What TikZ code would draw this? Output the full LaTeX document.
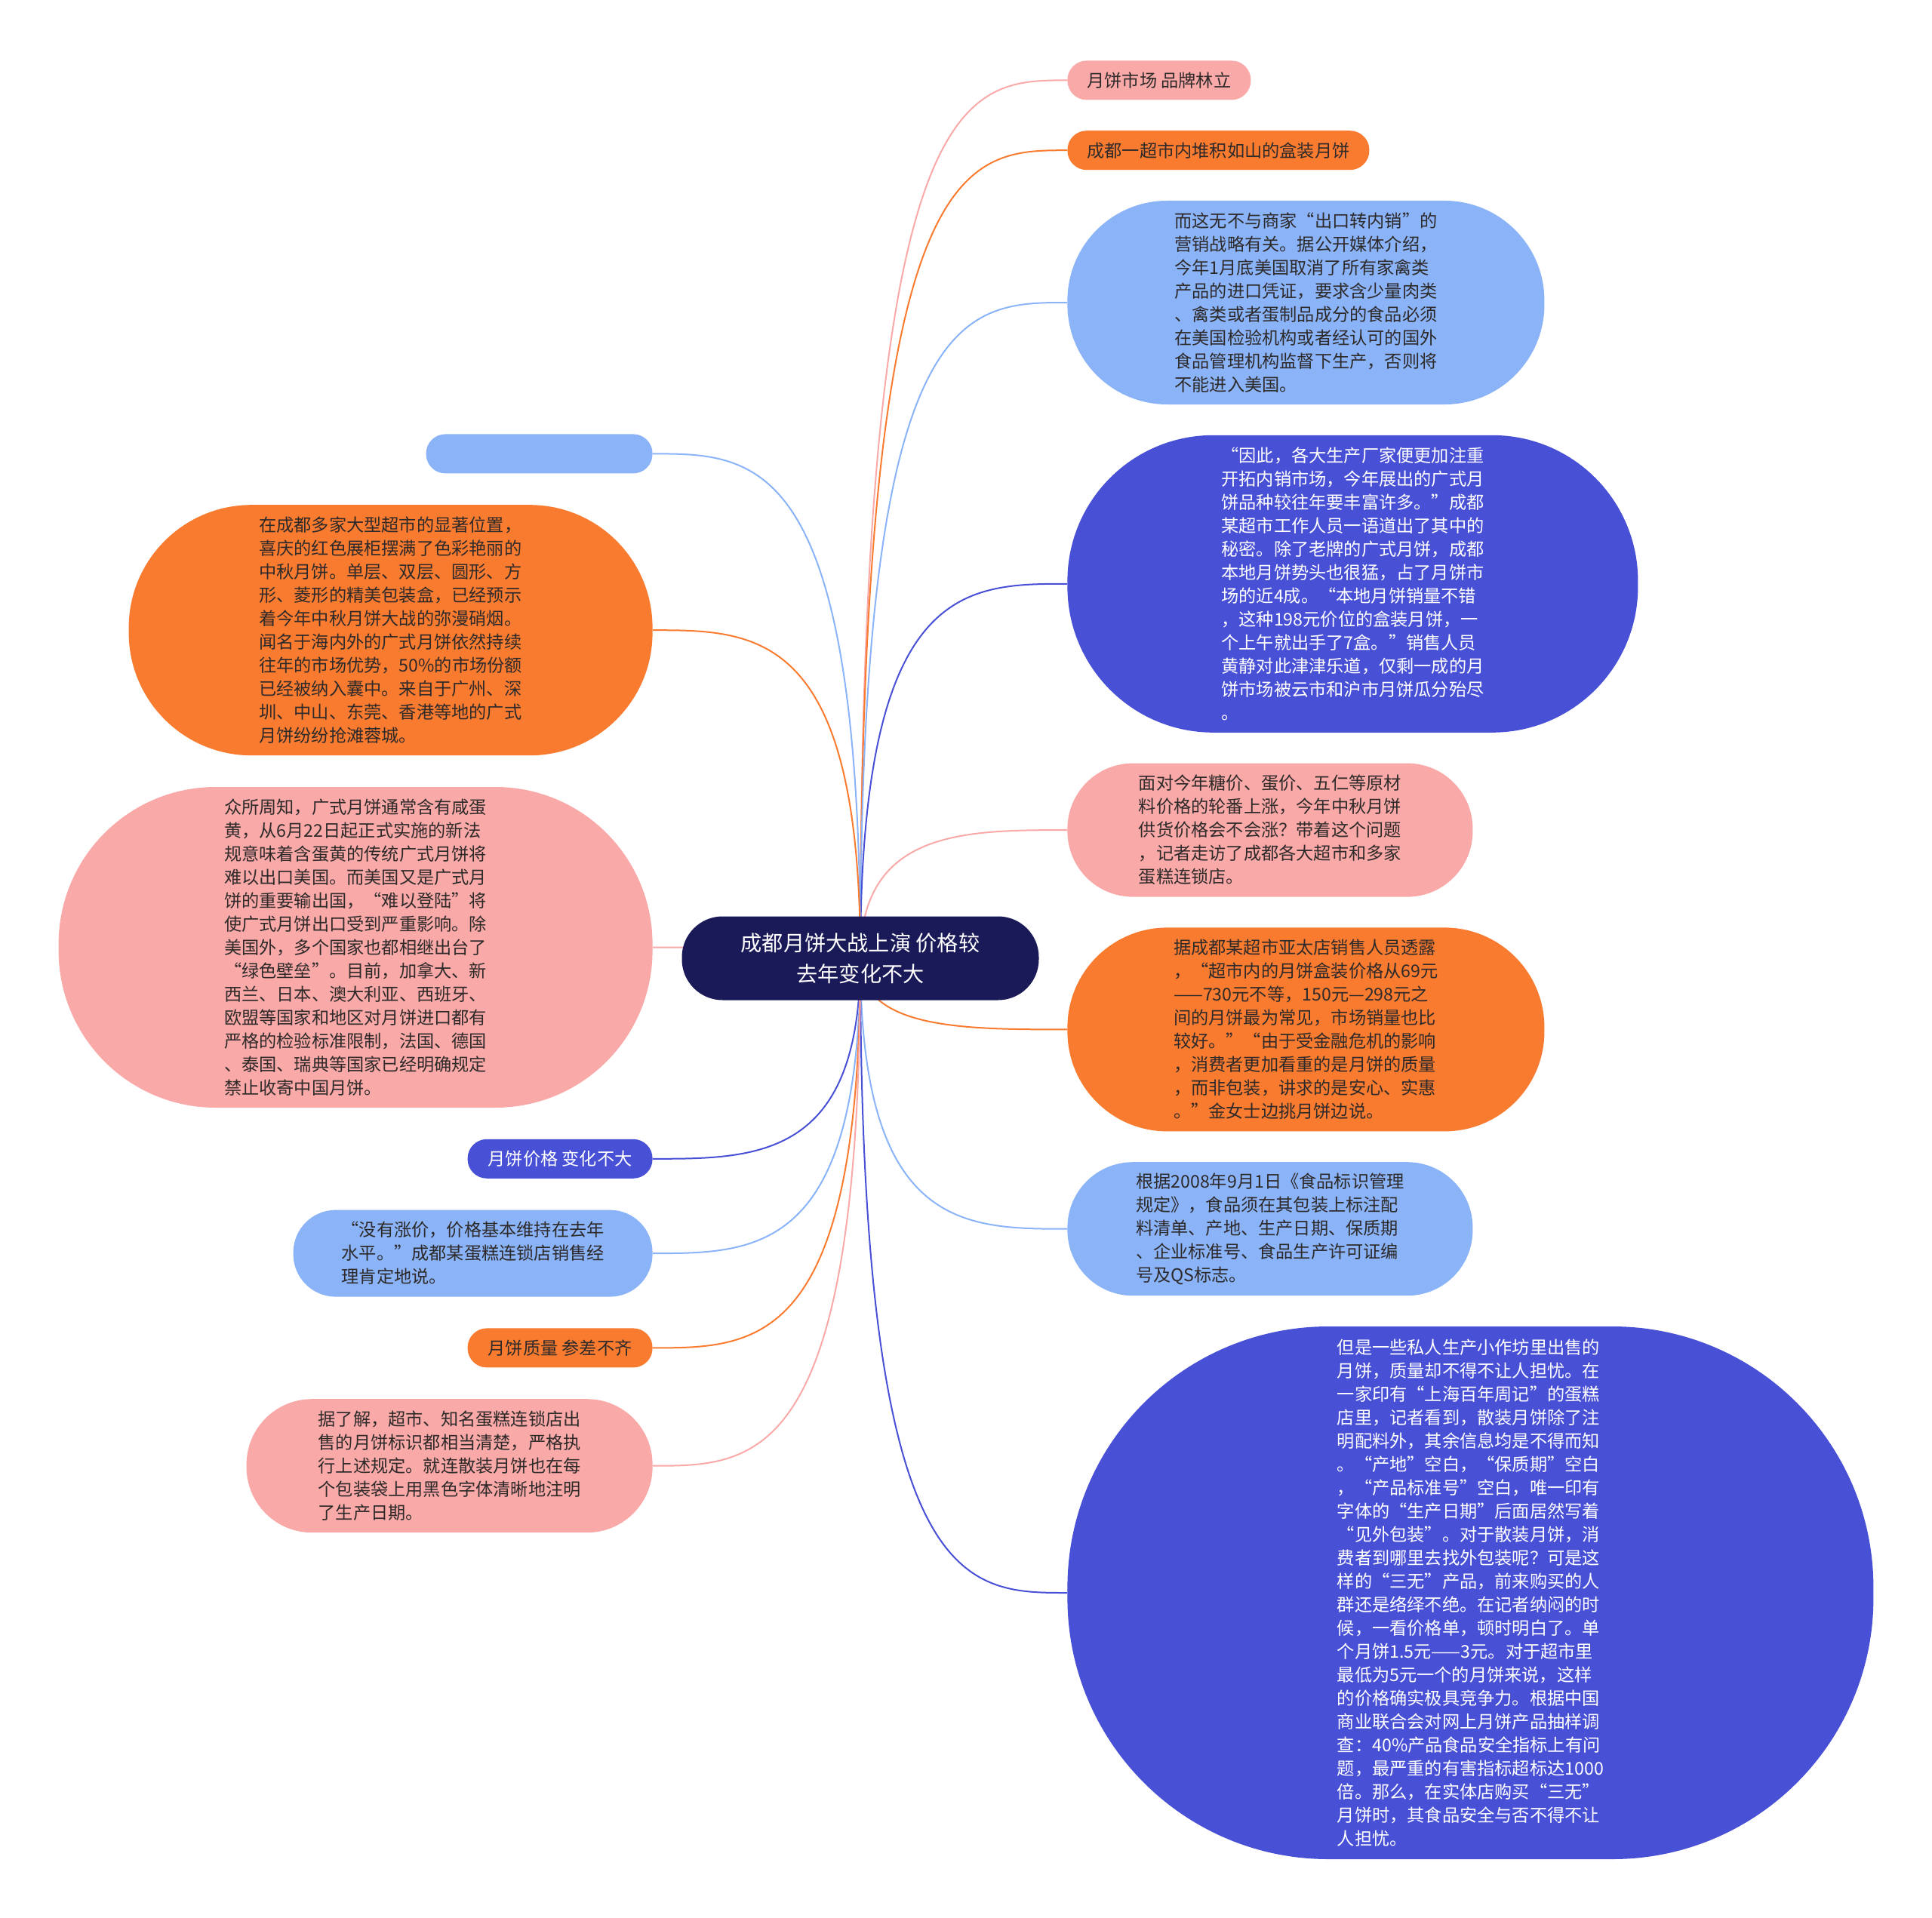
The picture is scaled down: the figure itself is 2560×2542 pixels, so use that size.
\documentclass[tikz,border=0pt]{standalone}
\usepackage{fontspec}
\setmainfont{Noto Sans CJK SC}
\usetikzlibrary{backgrounds,calc,positioning}

\definecolor{pinkfill}{HTML}{F9A9A7}
\definecolor{orangefill}{HTML}{F97B30}
\definecolor{bluefill}{HTML}{8AB3F8}
\definecolor{indigofill}{HTML}{4850D6}
\definecolor{navyfill}{HTML}{1B1A58}
\definecolor{textdark}{HTML}{2E2A2A}

\begin{document}
\begin{tikzpicture}[
  x=0.5pt, y=-0.5pt,
  every node/.style={
    font=\fontsize{11.6}{15.5}\selectfont,
    text=textdark
  },
  bubble/.style n args={2}{
    rectangle,
    align=left,
    inner sep=0pt,
    minimum width=#1,
    minimum height=#2,
    rounded corners=0.49*#2
  },
  root/.style={
    rectangle,
    fill=navyfill,
    text=white,
    align=center,
    inner sep=0pt,
    minimum width=236.5pt,
    minimum height=55.5pt,
    rounded corners=27pt,
    font=\fontsize{14.1}{20.4}\selectfont
  },
  link/.style={
    line width=1pt,
    to path={.. controls (\tikztostart |- \tikztotarget)
      and ($(\tikztostart |- \tikztotarget)!0.5!(\tikztotarget)$)
      .. (\tikztotarget)}
  }
]
  \useasboundingbox (0,0) rectangle (2560,2542);

  \node[root] (ctr) at (1140,1270) {成都月饼大战上演 价格较\\去年变化不大};

  % right column
  \node[bubble={121.5pt}{26pt}, fill=pinkfill, anchor=north west] (r1) at (1414,80)
    {月饼市场 品牌林立};
  \node[bubble={200pt}{26pt}, fill=orangefill,
        below=20pt of r1.south west, anchor=north west] (r2)
    {成都一超市内堆积如山的盒装月饼};
  \node[bubble={316pt}{135pt}, fill=bluefill,
        below=20pt of r2.south west, anchor=north west] (r3)
    {而这无不与商家“出口转内销”的\\营销战略有关。据公开媒体介绍，\\今年1月底美国取消了所有家禽类\\产品的进口凭证，要求含少量肉类\\、禽类或者蛋制品成分的食品必须\\在美国检验机构或者经认可的国外\\食品管理机构监督下生产，否则将\\不能进入美国。};
  \node[bubble={378pt}{197pt}, fill=indigofill, text=white,
        below=20pt of r3.south west, anchor=north west] (r4)
    {“因此，各大生产厂家便更加注重\\开拓内销市场，今年展出的广式月\\饼品种较往年要丰富许多。”成都\\某超市工作人员一语道出了其中的\\秘密。除了老牌的广式月饼，成都\\本地月饼势头也很猛，占了月饼市\\场的近4成。“本地月饼销量不错\\，这种198元价位的盒装月饼，一\\个上午就出手了7盒。”销售人员\\黄静对此津津乐道，仅剩一成的月\\饼市场被云市和沪市月饼瓜分殆尽\\。};
  \node[bubble={268.5pt}{88.5pt}, fill=pinkfill,
        below=20pt of r4.south west, anchor=north west] (r5)
    {面对今年糖价、蛋价、五仁等原材\\料价格的轮番上涨，今年中秋月饼\\供货价格会不会涨？带着这个问题\\，记者走访了成都各大超市和多家\\蛋糕连锁店。};
  \node[bubble={316pt}{135pt}, fill=orangefill,
        below=20pt of r5.south west, anchor=north west] (r6)
    {据成都某超市亚太店销售人员透露\\，“超市内的月饼盒装价格从69元\\——730元不等，150元—298元之\\间的月饼最为常见，市场销量也比\\较好。”“由于受金融危机的影响\\，消费者更加看重的是月饼的质量\\，而非包装，讲求的是安心、实惠\\。”金女士边挑月饼边说。};
  \node[bubble={268.5pt}{88.5pt}, fill=bluefill,
        below=20pt of r6.south west, anchor=north west] (r7)
    {根据2008年9月1日《食品标识管理\\规定》，食品须在其包装上标注配\\料清单、产地、生产日期、保质期\\、企业标准号、食品生产许可证编\\号及QS标志。};
  \node[bubble={534pt}{353pt}, fill=indigofill, text=white,
        below=20pt of r7.south west, anchor=north west] (r8)
    {但是一些私人生产小作坊里出售的\\月饼，质量却不得不让人担忧。在\\一家印有“上海百年周记”的蛋糕\\店里，记者看到，散装月饼除了注\\明配料外，其余信息均是不得而知\\。“产地”空白，“保质期”空白\\，“产品标准号”空白，唯一印有\\字体的“生产日期”后面居然写着\\“见外包装”。对于散装月饼，消\\费者到哪里去找外包装呢？可是这\\样的“三无”产品，前来购买的人\\群还是络绎不绝。在记者纳闷的时\\候，一看价格单，顿时明白了。单\\个月饼1.5元——3元。对于超市里\\最低为5元一个的月饼来说，这样\\的价格确实极具竞争力。根据中国\\商业联合会对网上月饼产品抽样调\\查：40\%产品食品安全指标上有问\\题，最严重的有害指标超标达1000\\倍。那么，在实体店购买“三无”\\月饼时，其食品安全与否不得不让\\人担忧。};

  % left column
  \node[bubble={150pt}{26pt}, fill=bluefill, anchor=north east] (l1) at (865,575) {};
  \node[bubble={347pt}{166pt}, fill=orangefill,
        below=20.5pt of l1.south east, anchor=north east] (l2)
    {在成都多家大型超市的显著位置，\\喜庆的红色展柜摆满了色彩艳丽的\\中秋月饼。单层、双层、圆形、方\\形、菱形的精美包装盒，已经预示\\着今年中秋月饼大战的弥漫硝烟。\\闻名于海内外的广式月饼依然持续\\往年的市场优势，50\%的市场份额\\已经被纳入囊中。来自于广州、深\\圳、中山、东莞、香港等地的广式\\月饼纷纷抢滩蓉城。};
  \node[bubble={393.5pt}{212.5pt}, fill=pinkfill,
        below=20.5pt of l2.south east, anchor=north east] (l3)
    {众所周知，广式月饼通常含有咸蛋\\黄，从6月22日起正式实施的新法\\规意味着含蛋黄的传统广式月饼将\\难以出口美国。而美国又是广式月\\饼的重要输出国，“难以登陆”将\\使广式月饼出口受到严重影响。除\\美国外，多个国家也都相继出台了\\“绿色壁垒”。目前，加拿大、新\\西兰、日本、澳大利亚、西班牙、\\欧盟等国家和地区对月饼进口都有\\严格的检验标准限制，法国、德国\\、泰国、瑞典等国家已经明确规定\\禁止收寄中国月饼。};
  \node[bubble={122.5pt}{26pt}, fill=indigofill, text=white,
        below=20.5pt of l3.south east, anchor=north east] (l4)
    {月饼价格 变化不大};
  \node[bubble={238pt}{57.5pt}, fill=bluefill,
        below=20.5pt of l4.south east, anchor=north east] (l5)
    {“没有涨价，价格基本维持在去年\\水平。”成都某蛋糕连锁店销售经\\理肯定地说。};
  \node[bubble={122.5pt}{26pt}, fill=orangefill,
        below=20.5pt of l5.south east, anchor=north east] (l6)
    {月饼质量 参差不齐};
  \node[bubble={269pt}{88.5pt}, fill=pinkfill,
        below=20.5pt of l6.south east, anchor=north east] (l7)
    {据了解，超市、知名蛋糕连锁店出\\售的月饼标识都相当清楚，严格执\\行上述规定。就连散装月饼也在每\\个包装袋上用黑色字体清晰地注明\\了生产日期。};

  \begin{scope}[on background layer]
    \draw[link, draw=pinkfill] (ctr.center) to (r1.west);
    \draw[link, draw=orangefill] (ctr.center) to (r2.west);
    \draw[link, draw=bluefill] (ctr.center) to (r3.west);
    \draw[link, draw=indigofill] (ctr.center) to (r4.west);
    \draw[link, draw=pinkfill] (ctr.center) to (r5.west);
    \draw[link, draw=orangefill] (ctr.center) to (r6.west);
    \draw[link, draw=bluefill] (ctr.center) to (r7.west);
    \draw[link, draw=indigofill] (ctr.center) to (r8.west);
    \draw[link, draw=bluefill] (ctr.center) to (l1.east);
    \draw[link, draw=orangefill] (ctr.center) to (l2.east);
    \draw[link, draw=pinkfill] (ctr.center) to (l3.east);
    \draw[link, draw=indigofill] (ctr.center) to (l4.east);
    \draw[link, draw=bluefill] (ctr.center) to (l5.east);
    \draw[link, draw=orangefill] (ctr.center) to (l6.east);
    \draw[link, draw=pinkfill] (ctr.center) to (l7.east);
  \end{scope}
\end{tikzpicture}
\end{document}
